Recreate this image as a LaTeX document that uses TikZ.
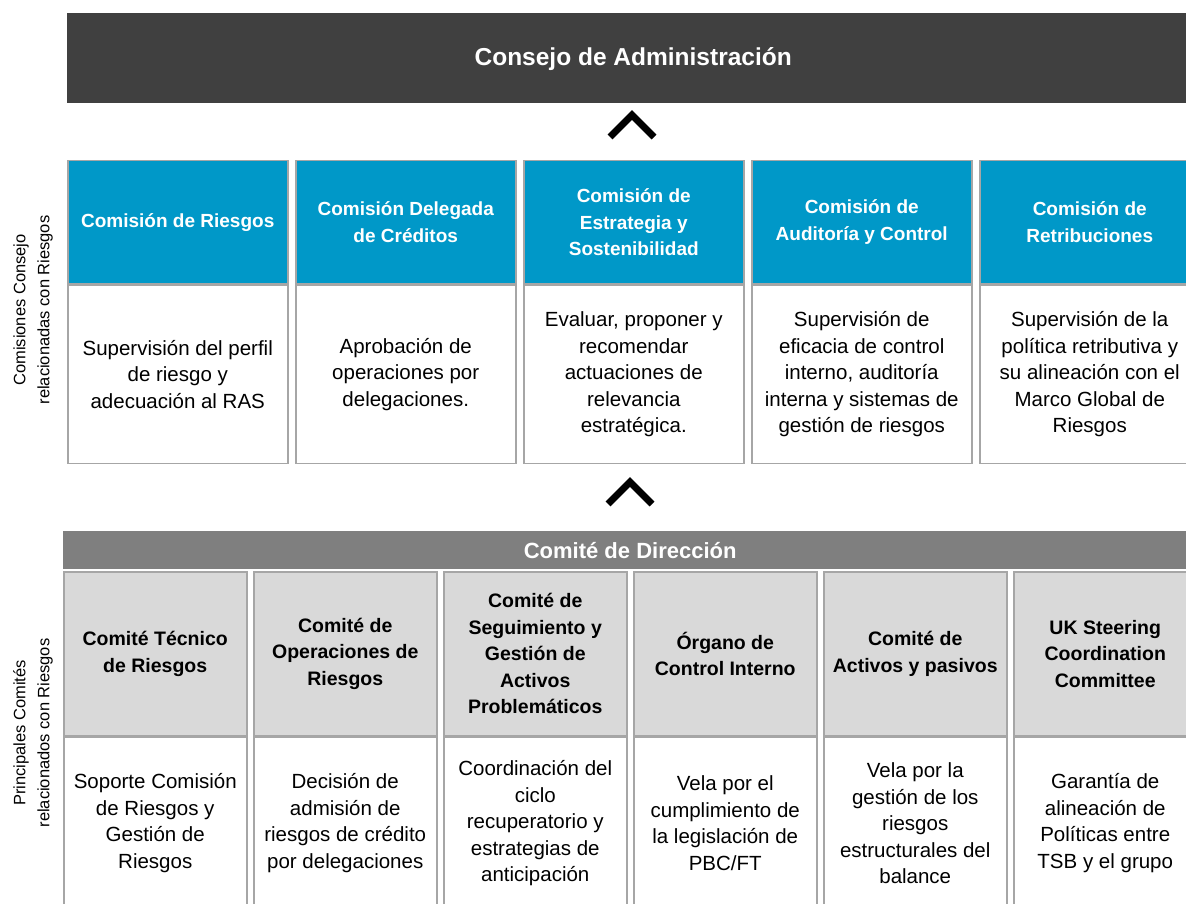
\documentclass[tikz,border=0pt]{standalone}
\usepackage{fontspec}
\setmainfont{Liberation Sans}
\usepackage{tikz}
\usetikzlibrary{positioning}

\definecolor{consejogris}{RGB}{64,64,64}
\definecolor{comiteazul}{RGB}{0,152,200}
\definecolor{direcciongris}{RGB}{127,127,127}
\definecolor{cabeceragris}{RGB}{217,217,217}
\definecolor{bordegris}{RGB}{166,166,166}

\tikzset{
  barra/.style={anchor=north west, inner sep=0pt, text=white, font=\bfseries},
  cabazul/.style={anchor=north west, draw=bordegris, line width=1.5pt, fill=comiteazul, minimum width=220pt, minimum height=123pt, align=center, text=white, font=\fontsize{19}{26.5}\selectfont\bfseries},
  cuerpoazul/.style={anchor=north, draw=bordegris, line width=1.5pt, fill=white, minimum width=220pt, minimum height=178pt, align=center, font=\fontsize{20.5}{26.5}\selectfont},
  cabgris/.style={anchor=north west, draw=bordegris, line width=1.5pt, fill=cabeceragris, minimum width=183pt, minimum height=164pt, align=center, font=\fontsize{19.5}{26.5}\selectfont\bfseries},
  cuerpogris/.style={anchor=north, draw=bordegris, line width=1.5pt, fill=white, minimum width=183pt, minimum height=172pt, align=center, font=\fontsize{20.5}{26.5}\selectfont},
  lateral/.style={rotate=90, align=center, font=\fontsize{16.5}{24}\selectfont},
  chevron/.style={draw=black, line width=7pt, miter limit=10}
}

\begin{document}
\begin{tikzpicture}[x=1pt, y=-1pt]
\useasboundingbox (0,0) rectangle (1186,904);
\clip (0,0) rectangle (1186,904);

% consejo
\node [barra, fill=consejogris, minimum width=1132pt, minimum height=90pt, font=\fontsize{24.5}{28}\selectfont\bfseries, text depth=3pt] (consejo) at (67,13) {Consejo de Administración};
\draw [chevron] (610,137) -- (632,115) -- (654,137);

% comisiones del consejo
\node [cabazul] (riesgos) at (67,160) {Comisión de Riesgos};
\node [cuerpoazul, below=0pt of riesgos] (riesgostxt) {Supervisión del perfil\\de riesgo y\\adecuación al RAS};
\node [cabazul] (creditos) at (295,160) {Comisión Delegada\\de Créditos};
\node [cuerpoazul, below=0pt of creditos] (creditostxt) {Aprobación de\\operaciones por\\delegaciones.};
\node [cabazul] (estrategia) at (523,160) {Comisión de\\Estrategia y\\Sostenibilidad};
\node [cuerpoazul, below=0pt of estrategia] (estrategiatxt) {Evaluar, proponer y\\recomendar\\actuaciones de\\relevancia\\estratégica.};
\node [cabazul] (auditoria) at (751,160) {Comisión de\\Auditoría y Control};
\node [cuerpoazul, below=0pt of auditoria] (auditoriatxt) {Supervisión de\\eficacia de control\\interno, auditoría\\interna y sistemas de\\gestión de riesgos};
\node [cabazul] (retribuciones) at (979,160) {Comisión de\\Retribuciones};
\node [cuerpoazul, below=0pt of retribuciones] (retribucionestxt) {Supervisión de la\\política retributiva y\\su alineación con el\\Marco Global de\\Riesgos};

\node [lateral] (comisiones) at (33,310) {Comisiones Consejo\\relacionadas con Riesgos};

\draw [chevron] (608,504) -- (630,482) -- (652,504);

% comite de direccion
\node [barra, fill=direcciongris, minimum width=1134pt, minimum height=38pt, font=\fontsize{22}{24}\selectfont\bfseries] (direccion) at (63,531) {Comité de Dirección};

\node [cabgris] (tecnico) at (63,571) {Comité Técnico\\de Riesgos};
\node [cuerpogris, below=0pt of tecnico] (tecnicotxt) {Soporte Comisión\\de Riesgos y\\Gestión de\\Riesgos};
\node [cabgris] (operaciones) at (253,571) {Comité de\\Operaciones de\\Riesgos};
\node [cuerpogris, below=0pt of operaciones] (operacionestxt) {Decisión de\\admisión de\\riesgos de crédito\\por delegaciones};
\node [cabgris] (problematicos) at (443,571) {Comité de\\Seguimiento y\\Gestión de\\Activos\\Problemáticos};
\node [cuerpogris, below=0pt of problematicos] (problematicostxt) {Coordinación del\\ciclo\\recuperatorio y\\estrategias de\\anticipación};
\node [cabgris] (organo) at (633,571) {Órgano de\\Control Interno};
\node [cuerpogris, below=0pt of organo] (organotxt) {Vela por el\\cumplimiento de\\la legislación de\\PBC/FT};
\node [cabgris] (activos) at (823,571) {Comité de\\Activos y pasivos};
\node [cuerpogris, below=0pt of activos] (activostxt) {Vela por la\\gestión de los\\riesgos\\estructurales del\\balance};
\node [cabgris] (steering) at (1013,571) {UK Steering\\Coordination\\Committee};
\node [cuerpogris, below=0pt of steering] (steeringtxt) {Garantía de\\alineación de\\Políticas entre\\TSB y el grupo};

\node [lateral] (principales) at (33,733) {Principales Comités\\relacionados con Riesgos};

\end{tikzpicture}
\end{document}
